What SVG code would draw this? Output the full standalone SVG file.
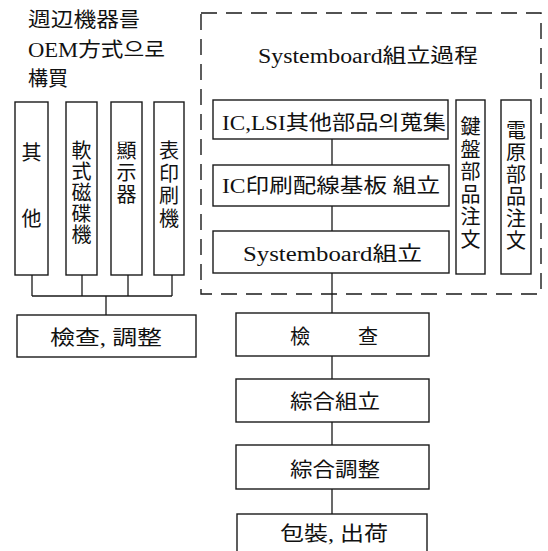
<svg xmlns="http://www.w3.org/2000/svg" width="548" height="551" viewBox="0 0 548 551">
<style>
.b{fill:#fff;stroke:#1a1a1a;stroke-width:1.4}
.c{fill:none;stroke:#1a1a1a;stroke-width:1.3}
.d{fill:none;stroke:#1a1a1a;stroke-width:1.4;stroke-dasharray:16 9}
text{font-family:"Liberation Serif","Noto Sans CJK KR","Noto Sans CJK SC",serif;fill:#111;font-size:20px}
.m{text-anchor:middle}
</style>
<rect width="548" height="551" fill="#fff"/>
<g id="heading">
<text x="28" y="27" font-size="22" textLength="112" lengthAdjust="spacingAndGlyphs">週辺機器를</text>
<text x="28" y="57" font-size="21" textLength="137" lengthAdjust="spacingAndGlyphs">OEM方式으로</text>
<text x="28" y="86" font-size="21">構買</text>
</g>
<g id="systemboard-group">
<rect class="d" x="201" y="13" width="340" height="281"/>
<text x="258" y="63" textLength="220" lengthAdjust="spacingAndGlyphs">Systemboard組立過程</text>
</g>
<g id="connectors">
<path class="c" d="M32 275V296M82 275V296M128 275V296M172 275V296M32 296H172M106 296V315"/>
<path class="c" d="M332 139V165M332 206V231M332 273V313M332 356V379M332 422V445M332 489V514"/>
</g>
<g id="n-other"><rect class="b" x="15" y="102" width="33" height="173"/>
<text class="m" x="31.5" y="160">其</text><text class="m" x="31.5" y="226">他</text></g>
<g id="n-fdd"><rect class="b" x="66" y="102" width="31" height="173"/>
<text class="m" font-size="20"><tspan x="81.5" y="158">軟</tspan><tspan x="81.5" y="179">式</tspan><tspan x="81.5" y="200">磁</tspan><tspan x="81.5" y="221">碟</tspan><tspan x="81.5" y="242">機</tspan></text></g>
<g id="n-display"><rect class="b" x="111" y="102" width="31" height="173"/>
<text class="m" font-size="21"><tspan x="126.5" y="158">顯</tspan><tspan x="126.5" y="180">示</tspan><tspan x="126.5" y="202">器</tspan></text></g>
<g id="n-printer"><rect class="b" x="154" y="102" width="30" height="173"/>
<text class="m" font-size="21"><tspan x="169" y="158">表</tspan><tspan x="169" y="180.5">印</tspan><tspan x="169" y="203">刷</tspan><tspan x="169" y="225.5">機</tspan></text></g>
<g id="n-check-adjust"><rect class="b" x="17" y="315" width="179" height="42"/>
<text x="50" y="345" textLength="112" lengthAdjust="spacingAndGlyphs">檢查, 調整</text></g>
<g id="n-ic-collect"><rect class="b" x="213" y="100" width="235" height="39"/>
<text x="222" y="130" font-size="21" textLength="224" lengthAdjust="spacingAndGlyphs">IC,LSI其他部品의蒐集</text></g>
<g id="n-pcb"><rect class="b" x="213" y="165" width="236" height="41"/>
<text x="222" y="193" textLength="218" lengthAdjust="spacingAndGlyphs">IC印刷配線基板  組立</text></g>
<g id="n-sb-assembly"><rect class="b" x="213" y="231" width="236" height="42"/>
<text x="243" y="261" textLength="179" lengthAdjust="spacingAndGlyphs">Systemboard組立</text></g>
<g id="n-keyboard"><rect class="b" x="456" y="100" width="29" height="174"/>
<text class="m" font-size="21"><tspan x="470.5" y="134">鍵</tspan><tspan x="470.5" y="156.5">盤</tspan><tspan x="470.5" y="179">部</tspan><tspan x="470.5" y="201.5">品</tspan><tspan x="470.5" y="224">注</tspan><tspan x="470.5" y="246.5">文</tspan></text></g>
<g id="n-power"><rect class="b" x="501" y="100" width="30" height="174"/>
<text class="m" font-size="21"><tspan x="516" y="138">電</tspan><tspan x="516" y="160">原</tspan><tspan x="516" y="182">部</tspan><tspan x="516" y="204">品</tspan><tspan x="516" y="226">注</tspan><tspan x="516" y="248">文</tspan></text></g>
<g id="n-check"><rect class="b" x="236" y="313" width="193" height="43"/>
<text x="290" y="344" font-size="21">檢</text><text x="358" y="344" font-size="21">查</text></g>
<g id="n-final-assembly"><rect class="b" x="236" y="379" width="193" height="43"/>
<text x="290" y="409" font-size="22" textLength="90" lengthAdjust="spacingAndGlyphs">綜合組立</text></g>
<g id="n-final-adjust"><rect class="b" x="236" y="445" width="193" height="44"/>
<text x="290" y="477" font-size="22" textLength="90" lengthAdjust="spacingAndGlyphs">綜合調整</text></g>
<g id="n-pack"><rect class="b" x="237" y="514" width="190" height="45"/>
<text x="280" y="541" font-size="21" textLength="108" lengthAdjust="spacingAndGlyphs">包裝, 出荷</text></g>
</svg>
